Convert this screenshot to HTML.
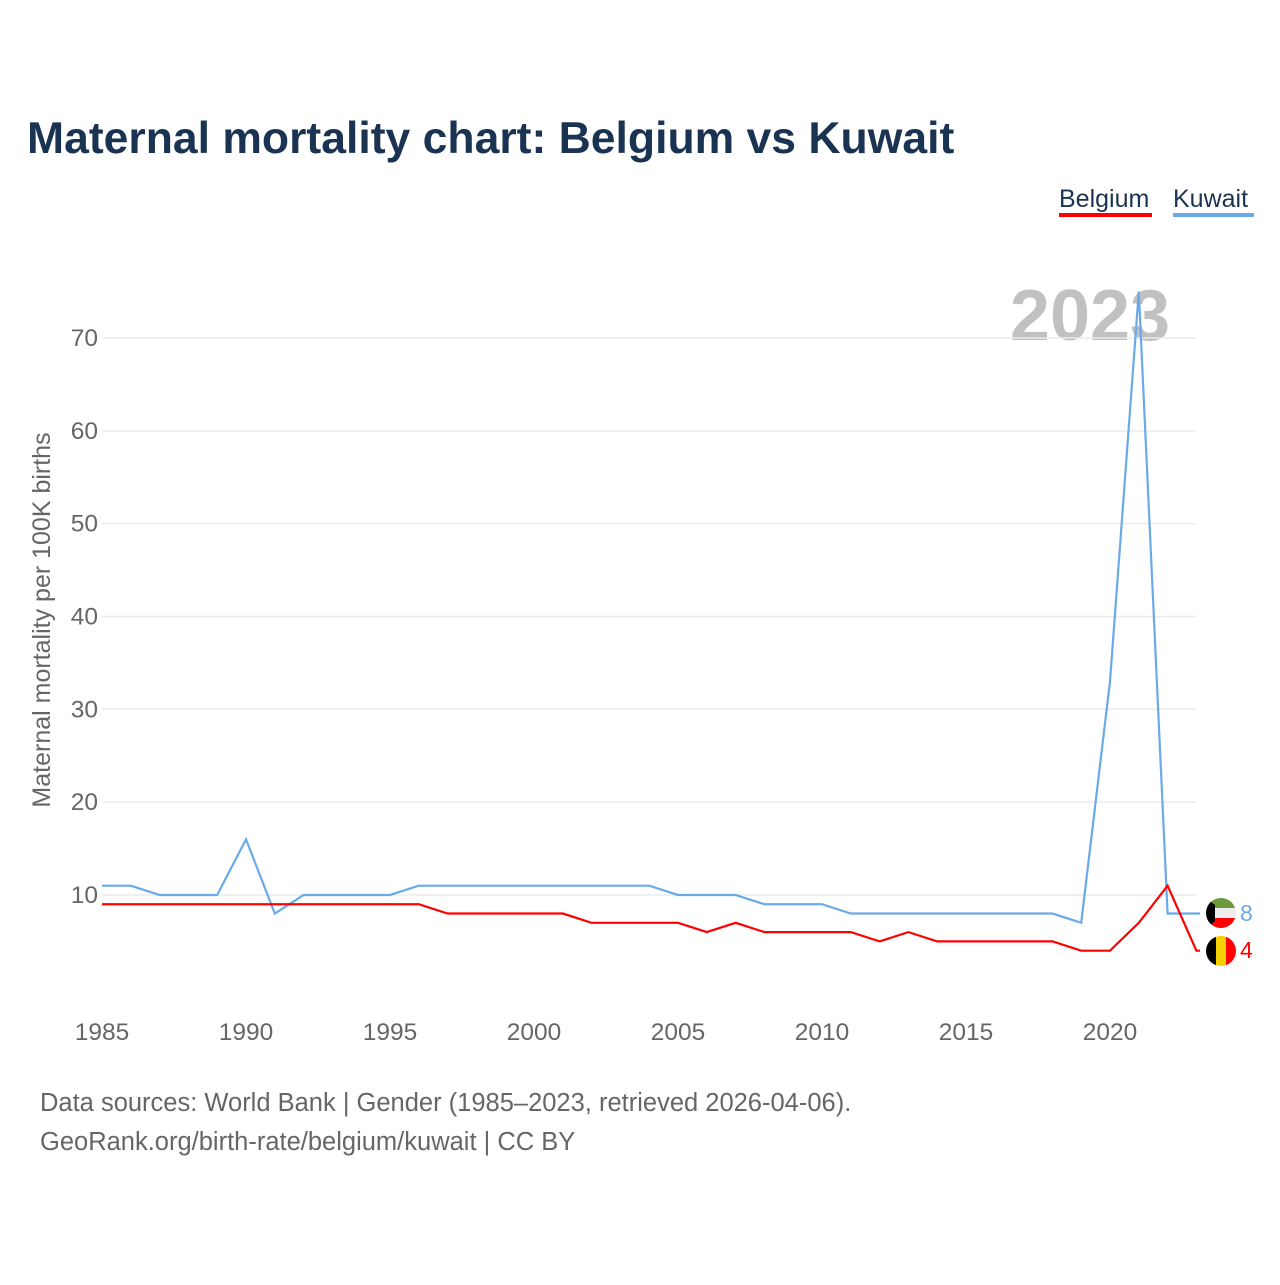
<!DOCTYPE html>
<html><head><meta charset="utf-8">
<style>
body{margin:0;background:#fff;font-family:"Liberation Sans",sans-serif;}
svg text{font-family:"Liberation Sans",sans-serif;}
</style></head>
<body>
<svg width="1280" height="1280" viewBox="0 0 1280 1280">
<text x="27" y="153" font-size="44.5" font-weight="bold" fill="#1b3352">Maternal mortality chart: Belgium vs Kuwait</text>
<g>
<text x="1059" y="207" font-size="25" fill="#1b3352">Belgium</text>
<rect x="1059" y="213" width="93" height="4" fill="#ff0000"/>
<text x="1173" y="207" font-size="25" fill="#1b3352">Kuwait</text>
<rect x="1173" y="213" width="81" height="4" fill="#6aaae8"/>
</g>
<text x="1090" y="340" font-size="72" font-weight="bold" fill="#bbb" text-anchor="middle" opacity="0.9">2023</text>
<g id="grid"></g>
<g id="xt"></g>
<text transform="translate(50,620) rotate(-90)" font-size="25" fill="#666" text-anchor="middle">Maternal mortality per 100K births</text>
<g id="series"></g>
<g>
<clipPath id="ck"><circle cx="1221" cy="913" r="15"/></clipPath>
<g clip-path="url(#ck)"><rect x="1206" y="898" width="30" height="10" fill="#6b9a3c"/><rect x="1206" y="908" width="30" height="10" fill="#eee"/><rect x="1206" y="918" width="30" height="10" fill="#f00"/><polygon points="1206,898 1215,905 1215,921 1206,928" fill="#000"/></g>
</g>
<g>
<clipPath id="cb"><circle cx="1221" cy="951" r="15"/></clipPath>
<g clip-path="url(#cb)"><rect x="1206" y="936" width="10" height="30" fill="#000"/><rect x="1216" y="936" width="10" height="30" fill="#f5d000"/><rect x="1226" y="936" width="10" height="30" fill="#f00"/></g>
</g>
<text x="1240" y="921" font-size="23" fill="#6aaae8">8</text>
<text x="1240" y="958" font-size="23" fill="#f00">4</text>
<text x="40" y="1111" font-size="25.5" fill="#666">Data sources: World Bank | Gender (1985–2023, retrieved 2026-04-06).</text>
<text x="40" y="1150" font-size="25.5" fill="#666">GeoRank.org/birth-rate/belgium/kuwait | CC BY</text>
</svg>
<script>
const years=[1985,1986,1987,1988,1989,1990,1991,1992,1993,1994,1995,1996,1997,1998,1999,2000,2001,2002,2003,2004,2005,2006,2007,2008,2009,2010,2011,2012,2013,2014,2015,2016,2017,2018,2019,2020,2021,2022,2023];
const kuwait=[11,11,10,10,10,16,8,10,10,10,10,11,11,11,11,11,11,11,11,11,10,10,10,9,9,9,8,8,8,8,8,8,8,8,7,33,75,8,8];
const belgium=[9,9,9,9,9,9,9,9,9,9,9,9,8,8,8,8,8,7,7,7,7,6,7,6,6,6,6,5,6,5,5,5,5,5,4,4,7,11,4];
const yTicks=[10,20,30,40,50,60,70];
const xTicks=[1985,1990,1995,2000,2005,2010,2015,2020];
const NS='http://www.w3.org/2000/svg';
const xS=y=>102+(y-1985)*28.8;
const yS=v=>987.8-v*9.283;
const grid=document.getElementById('grid');
yTicks.forEach(t=>{
 const l=document.createElementNS(NS,'line');
 l.setAttribute('x1',102);l.setAttribute('x2',1196);l.setAttribute('y1',yS(t));l.setAttribute('y2',yS(t));
 l.setAttribute('stroke','#ebebeb');l.setAttribute('stroke-width','1.5');
 
 
 grid.appendChild(l);
 const tx=document.createElementNS(NS,'text');
 tx.setAttribute('x',98);tx.setAttribute('y',yS(t)+8);tx.setAttribute('text-anchor','end');
 tx.setAttribute('font-size','24.5');tx.setAttribute('fill','#666');tx.textContent=t;
 
 
 grid.appendChild(tx);
});
const xt=document.getElementById('xt');
xTicks.forEach(t=>{
 const tx=document.createElementNS(NS,'text');
 tx.setAttribute('x',xS(t));tx.setAttribute('y',1040);tx.setAttribute('text-anchor','middle');
 tx.setAttribute('font-size','24.5');tx.setAttribute('fill','#666');tx.textContent=t;
 
 
 xt.appendChild(tx);
});
const ser=document.getElementById('series');
function line(vals,color,name){
 const p=document.createElementNS(NS,'polyline');
 let pts=vals.map((v,i)=>xS(years[i])+','+yS(v));
 pts.push('1200,'+yS(vals[vals.length-1]));
 p.setAttribute('points',pts.join(' '));
 p.setAttribute('fill','none');p.setAttribute('stroke',color);p.setAttribute('stroke-width','2.2');
 
 
 ser.appendChild(p);
}
line(kuwait,'#6aaae8','line-kuwait');
line(belgium,'#ff0000','line-belgium');
</script>
</body></html>
